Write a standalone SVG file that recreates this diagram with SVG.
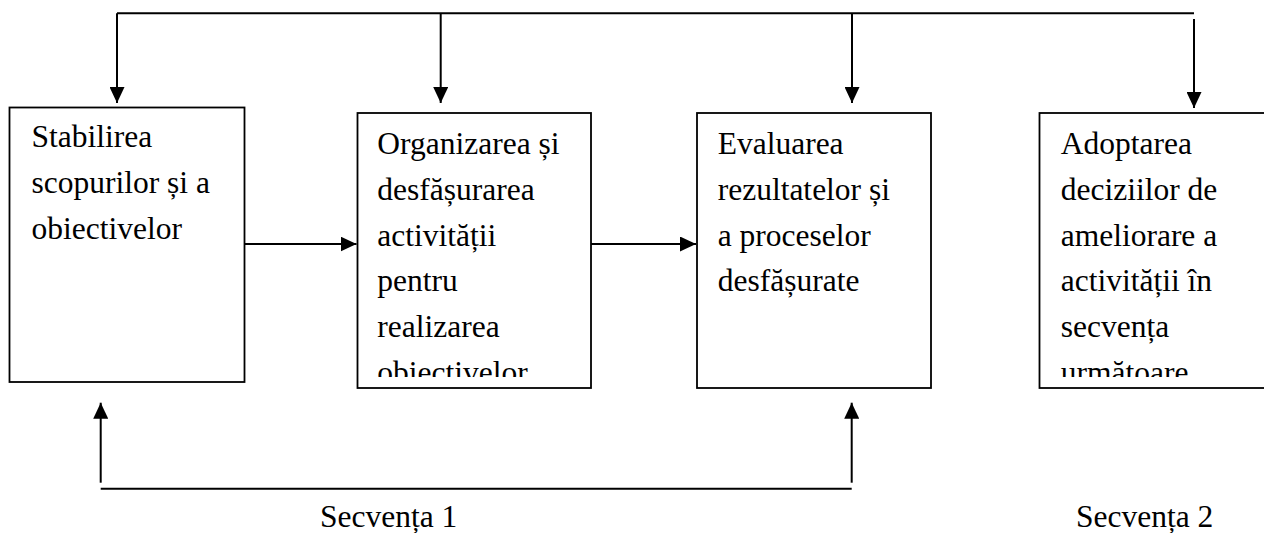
<svg xmlns="http://www.w3.org/2000/svg" width="1264" height="533" viewBox="0 0 1264 533">
<style>
.box{fill:#fff;stroke:#000;stroke-width:1.8}
.t{font-family:"Liberation Serif","Times New Roman",serif;font-size:31.5px;fill:#000}
.c{fill:none;stroke:#000;stroke-width:2}
</style>
<defs>
<marker id="ah" viewBox="0 0 16 15" refX="16" refY="7.5" markerWidth="16" markerHeight="15" markerUnits="userSpaceOnUse" orient="auto">
<path d="M0,0 L16,7.5 L0,15 z" fill="#000"/>
</marker>
<clipPath id="clip2"><rect x="357" y="113" width="234" height="264"/></clipPath>
<clipPath id="clip4"><rect x="1039" y="113" width="240" height="264"/></clipPath>
</defs>
<rect width="1264" height="533" fill="#fff"/>
<g id="connectors">
<path class="c" d="M117,13.3 H1194"/>
<path class="c" d="M117,13.3 V103" marker-end="url(#ah)"/>
<path class="c" d="M440.7,13.3 V103" marker-end="url(#ah)"/>
<path class="c" d="M852,13.3 V103" marker-end="url(#ah)"/>
<path class="c" d="M1194,19 V108" marker-end="url(#ah)"/>
<path class="c" d="M245,244 H356.5" marker-end="url(#ah)"/>
<path class="c" d="M591,244 H696" marker-end="url(#ah)"/>
<path class="c" d="M100.7,482.7 V402.7" marker-end="url(#ah)"/>
<path class="c" d="M851.7,482.7 V402.7" marker-end="url(#ah)"/>
<path class="c" stroke-width="2.4" d="M100.7,488.7 H851.7"/>
</g>
<g id="node1">
<rect class="box" x="9.5" y="107.5" width="235" height="274.5"/>
<text class="t" x="31.5"><tspan x="31.5" y="146.5">Stabilirea</tspan><tspan x="31.5" y="192.5">scopurilor și a</tspan><tspan x="31.5" y="238.5">obiectivelor</tspan></text>
</g>
<g id="node2">
<rect class="box" x="357.5" y="113" width="233.5" height="275"/>
<text class="t" clip-path="url(#clip2)"><tspan x="377.3" y="154">Organizarea și</tspan><tspan x="377.3" y="200">desfășurarea</tspan><tspan x="377.3" y="245.5">activității</tspan><tspan x="377.3" y="291">pentru</tspan><tspan x="377.3" y="337">realizarea</tspan><tspan x="377.3" y="383">obiectivelor</tspan></text>
</g>
<g id="node3">
<rect class="box" x="697" y="113" width="234" height="275"/>
<text class="t"><tspan x="717.7" y="154">Evaluarea</tspan><tspan x="717.7" y="200">rezultatelor și</tspan><tspan x="717.7" y="245.5">a proceselor</tspan><tspan x="717.7" y="291">desfășurate</tspan></text>
</g>
<g id="node4">
<rect class="box" x="1039.5" y="113" width="240" height="275"/>
<text class="t" clip-path="url(#clip4)"><tspan x="1060.7" y="154">Adoptarea</tspan><tspan x="1060.7" y="200">deciziilor de</tspan><tspan x="1060.7" y="245.5">ameliorare a</tspan><tspan x="1060.7" y="291">activității în</tspan><tspan x="1060.7" y="337">secvența</tspan><tspan x="1060.7" y="383">următoare</tspan></text>
</g>
<g id="labels">
<text class="t" x="320" y="527">Secvența 1</text>
<text class="t" x="1076" y="527">Secvența 2</text>
</g>
</svg>
